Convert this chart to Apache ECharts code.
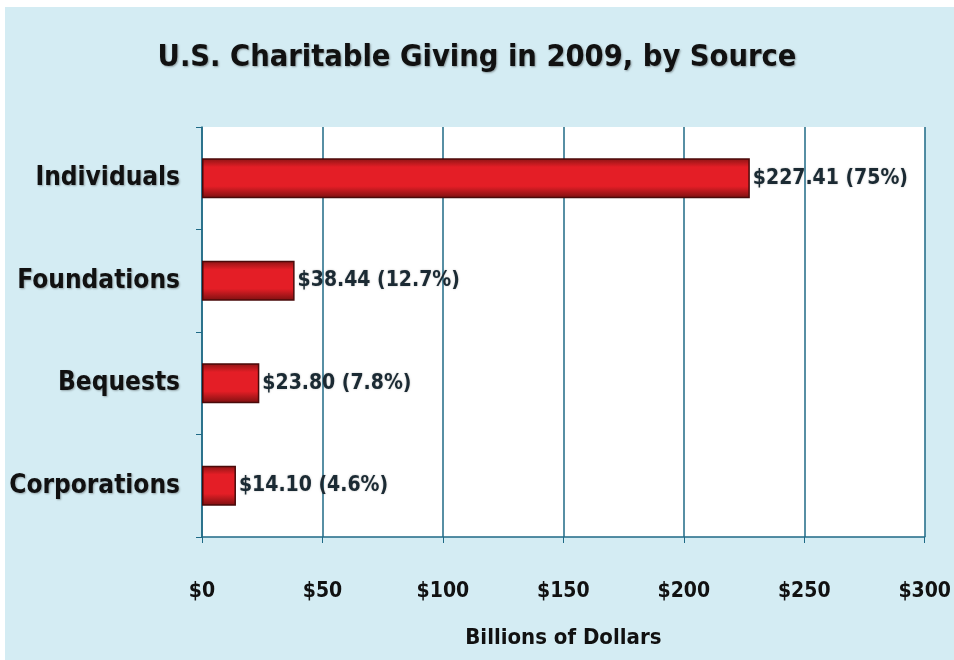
<!DOCTYPE html>
<html><head><meta charset="utf-8">
<script src="https://cdn.jsdelivr.net/npm/echarts@6/dist/echarts.min.js"></script>
<style>
html,body{margin:0;padding:0;background:#fff;}
#c{position:absolute;left:0;top:0;width:954px;height:660px;}
</style></head>
<body><div id="c"></div>
<script>
const categories = ["Individuals", "Foundations", "Bequests", "Corporations"];
const values = [227.41, 38.44, 23.80, 14.10];
const shares = ["75%", "12.7%", "7.8%", "4.6%"];
const xTicks = [0, 50, 100, 150, 200, 250, 300];

const font = '"DejaVu Sans Condensed", "Liberation Sans Narrow", "Arial Narrow", sans-serif';
const chart = echarts.init(document.getElementById('c'), null, {renderer: 'canvas'});
chart.setOption({
  animation: false,
  graphic: [{
    type: 'rect', z: -10, silent: true,
    shape: {x: 5, y: 7, width: 949, height: 653},
    style: {fill: '#d4ecf3'}
  }],
  title: {
    text: 'U.S. Charitable Giving in 2009, by Source',
    left: 'center', top: 38,
    textStyle: {fontFamily: font, fontSize: 30.5, fontWeight: 'bold', color: '#111',
      textShadowColor: 'rgba(0,0,0,0.35)', textShadowBlur: 2, textShadowOffsetX: 1, textShadowOffsetY: 1}
  },
  grid: {left: 202, right: 27, top: 127, bottom: 123, containLabel: false,
    show: true, backgroundColor: '#ffffff', borderWidth: 0},
  xAxis: {
    type: 'value', min: 0, max: 300, interval: 50,
    name: 'Billions of Dollars', nameLocation: 'middle', nameGap: 90,
    nameTextStyle: {fontFamily: font, fontSize: 22, fontWeight: 'bold', color: '#111'},
    axisLine: {show: true, lineStyle: {color: '#1f6a86', width: 1.5}},
    axisTick: {show: true, length: 6, lineStyle: {color: '#1f6a86'}},
    splitLine: {show: true, lineStyle: {color: '#1f6a86', width: 1.5}},
    axisLabel: {margin: 44, fontFamily: font, fontSize: 21, fontWeight: 'bold', color: '#111',
      formatter: v => xTicks.includes(v) ? '$' + v : ''}
  },
  yAxis: {
    type: 'category', data: categories, inverse: true,
    axisLine: {show: true, lineStyle: {color: '#1f6a86', width: 1.5}},
    axisTick: {show: true, length: 6, lineStyle: {color: '#1f6a86'}},
    axisLabel: {margin: 22, fontFamily: font, fontSize: 26, fontWeight: 'bold', color: '#111',
      textShadowColor: 'rgba(0,0,0,0.3)', textShadowBlur: 2, textShadowOffsetX: 1, textShadowOffsetY: 1}
  },
  series: [{
    type: 'bar', data: values, barWidth: 40,
    itemStyle: {
      color: new echarts.graphic.LinearGradient(0, 0, 0, 1, [
        {offset: 0, color: '#8a1414'},
        {offset: 0.22, color: '#e41e26'},
        {offset: 0.7, color: '#e41e26'},
        {offset: 1, color: '#7a1010'}
      ]),
      borderColor: '#4a0a0a', borderWidth: 1.5
    },
    label: {
      show: true, position: 'right', distance: 3,
      fontFamily: font, fontSize: 21, fontWeight: 'bold', color: '#1b2a33',
      textShadowColor: 'rgba(0,0,0,0.25)', textShadowBlur: 2,
      formatter: p => '$' + p.value.toFixed(2) + ' (' + shares[p.dataIndex] + ')'
    }
  }]
});
</script></body></html>
